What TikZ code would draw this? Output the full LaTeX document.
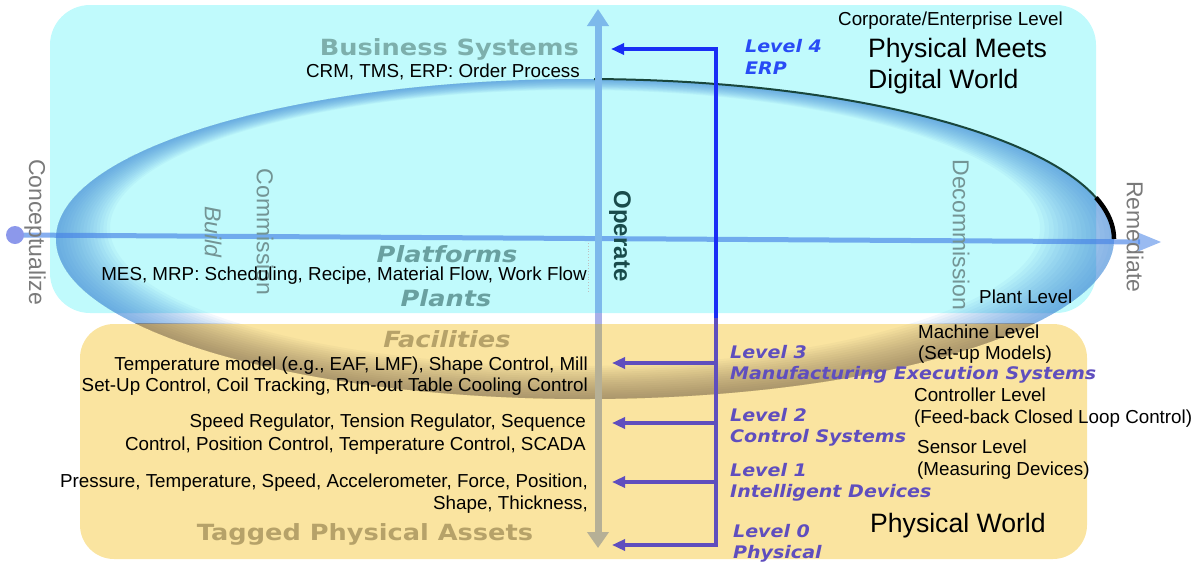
\documentclass[tikz,border=0pt]{standalone}
\usepackage{fontspec}
\setmainfont{Liberation Sans}
\newfontfamily\tierfont[FakeStretch=1.15]{DejaVu Sans}
\newfontfamily\lvlfont[FakeStretch=1.1]{DejaVu Sans}
\usetikzlibrary{arrows.meta}

\definecolor{cyanbg}{RGB}{192,250,252}
\definecolor{orangebg}{RGB}{250,228,160}
\definecolor{ringblue}{RGB}{62,135,215}
\definecolor{ringbrown}{RGB}{110,90,70}
\definecolor{rimline}{RGB}{25,70,60}
\definecolor{axisline}{RGB}{70,130,230}
\definecolor{dotblue}{RGB}{140,152,235}
\definecolor{vaxistop}{RGB}{125,185,235}
\definecolor{vaxisgap}{RGB}{170,175,232}
\definecolor{vaxisbot}{RGB}{182,176,150}
\definecolor{busblue}{RGB}{25,45,245}
\definecolor{buspurple}{RGB}{95,78,190}
\definecolor{lvlblue}{RGB}{40,75,245}
\definecolor{tealgray}{RGB}{125,175,172}
\definecolor{tierteal}{RGB}{105,160,160}
\definecolor{tiertan}{RGB}{182,162,105}
\definecolor{phasegray}{RGB}{122,122,122}
\definecolor{phaseteal}{RGB}{115,148,148}
\definecolor{operateteal}{RGB}{25,75,75}

\tikzset{
  lbl/.style={font=\fontsize{18.8}{21}\selectfont, inner sep=0pt, text=black},
  big/.style={font=\fontsize{26.6}{29}\selectfont, inner sep=0pt, text=black},
  phase/.style={font=\fontsize{23}{25}\selectfont, inner sep=0pt, rotate=-90},
  tier/.style={font=\tierfont\bfseries\fontsize{22.3}{24}\selectfont, inner sep=0pt},
  tierit/.style={font=\tierfont\bfseries\itshape\fontsize{22.3}{24}\selectfont, inner sep=0pt},
  lvl/.style={font=\lvlfont\bfseries\itshape\fontsize{17.3}{20}\selectfont, inner sep=0pt, text=buspurple},
  busline/.style={line width=3.2pt, line join=miter},
  lvlarrow/.style={busline, draw=buspurple, -{Triangle[length=13pt,width=11pt]}},
}

\begin{document}
\begin{tikzpicture}[x=1pt,y=-1pt]
\useasboundingbox (0,0) rectangle (1204,563);

% the two tiers
\fill[cyanbg, rounded corners=40pt] (50,5) rectangle (1096,313);
\fill[orangebg, rounded corners=34pt] (80,324) rectangle (1087,559);

% life-cycle ellipse: shaded rim, blue above the digital tier, brown below
\begin{scope}
  \clip (0,0) rectangle (1204,323.5);
  \foreach \i in {1,...,16}{
    \pgfmathsetmacro{\cx}{585-10*\i/16}
    \pgfmathsetmacro{\cy}{239-11*\i/16}
    \pgfmathsetmacro{\rx}{529-64*\i/16}
    \pgfmathsetmacro{\ry}{160-22*\i/16}
    \fill[ringblue, fill opacity=0.06, even odd rule]
      (585,239) ellipse [x radius=529, y radius=160]
      (\cx,\cy) ellipse [x radius=\rx, y radius=\ry];
  }
\end{scope}
\begin{scope}
  \clip (0,323.5) rectangle (1204,563);
  \foreach \i in {1,...,16}{
    \pgfmathsetmacro{\cx}{585-10*\i/16}
    \pgfmathsetmacro{\cy}{239-11*\i/16}
    \pgfmathsetmacro{\rx}{529-64*\i/16}
    \pgfmathsetmacro{\ry}{160-22*\i/16}
    \fill[ringbrown, fill opacity=0.045, even odd rule]
      (585,239) ellipse [x radius=529, y radius=160]
      (\cx,\cy) ellipse [x radius=\rx, y radius=\ry];
  }
\end{scope}
\draw[rimline, line width=2pt] plot[domain=0:89, samples=80] ({585+529*cos(\x)},{239-160*sin(\x)});
\draw[black, line width=4.5pt] plot[domain=0:15, samples=30] ({585+529*cos(\x)},{239-160*sin(\x)});

% horizontal life-cycle axis
\coordinate (cdot) at (15,235);
\coordinate (rtip) at (1161,242);
\draw[axisline, draw opacity=0.65, line width=5pt] (cdot) -- (1140,241.9);
\fill[axisline, fill opacity=0.55] (rtip) -- (1138,232.5) -- (1138,251.5) -- cycle;
\fill[dotblue] (cdot) circle [radius=9];

% vertical operate axis
\coordinate (vtop) at (598,9);
\coordinate (vcyan) at (598,313);
\coordinate (vorange) at (598,324);
\coordinate (vbot) at (598,548);
\draw[vaxistop, line width=7pt, -{Triangle[length=17pt,width=21pt]}] (vcyan) -- (vtop);
\draw[vaxisgap, line width=7pt] (vcyan) -- (vorange);
\draw[vaxisbot, line width=7pt, -{Triangle[length=16pt,width=21pt]}] (vorange) -- (vbot);

% faint guide beside the work-flow line
\draw[black!25, dotted, line width=0.8pt] (588,243) -- (588,292);

% level bus and its arrows
\coordinate (b4) at (716,49);
\coordinate (bsplit) at (716,318);
\coordinate (b3) at (716,363);
\coordinate (b2) at (716,423);
\coordinate (b1) at (716,482);
\coordinate (b0) at (716,545);
\coordinate (t4) at (611,49);
\coordinate (t3) at (612,363);
\coordinate (t2) at (612,423);
\coordinate (t1) at (612,482);
\coordinate (t0) at (612,545);
\draw[busline, draw=busblue, -{Triangle[length=13pt,width=11pt]}] (bsplit) -- (b4) -- (t4);
\draw[lvlarrow] (bsplit) -- (b0) -- (t0);
\draw[lvlarrow] (b3) -- (t3);
\draw[lvlarrow] (b2) -- (t2);
\draw[lvlarrow] (b1) -- (t1);

% tier headings
\node[tier, anchor=base east, text=tealgray] (biz) at (579,55) {Business Systems};
\node[tierit, anchor=base, text=tierteal] (plat) at (447,262.5) {Platforms};
\node[tierit, anchor=base, text=tierteal] (plants) at (446,306) {Plants};
\node[tierit, anchor=base, text=tiertan] (fac) at (447,347) {Facilities};
\node[tier, anchor=base, text=tiertan] (tagged) at (365,540) {Tagged Physical Assets};

% life-cycle phases
\node[phase, text=phasegray] (concept) at (35,232) {Conceptualize};
\node[phase, text=phaseteal, font=\fontsize{23}{25}\selectfont\itshape] (build) at (213,232) {Build};
\node[phase, text=phaseteal] (comm) at (265,232) {Commission};
\node[phase, text=operateteal, font=\fontsize{24}{26}\selectfont\bfseries] (operate) at (620,236) {Operate};
\node[phase, text=phaseteal] (decomm) at (961,235) {Decommission};
\node[phase, text=phasegray] (remed) at (1135,237) {Remediate};

% system descriptions
\node[lbl, anchor=base east] (crm) at (580,77) {CRM, TMS, ERP: Order Process};
\node[lbl, anchor=base east] (mes) at (587,280.5) {MES, MRP: Scheduling, Recipe, Material Flow, Work Flow};
\node[lbl, anchor=base east] (temp1) at (588,370) {Temperature model (e.g., EAF, LMF), Shape Control, Mill};
\node[lbl, anchor=base east] (temp2) at (588,391) {Set-Up Control, Coil Tracking, Run-out Table Cooling Control};
\node[lbl, anchor=base east] (speed1) at (586,427) {Speed Regulator, Tension Regulator, Sequence};
\node[lbl, anchor=base east] (speed2) at (586,450) {Control, Position Control, Temperature Control, SCADA};
\node[lbl, anchor=base east] (press1) at (588,487) {Pressure, Temperature, Speed, Accelerometer, Force, Position,};
\node[lbl, anchor=base east] (press2) at (588,509) {Shape, Thickness,};

% level names
\node[lvl, text=lvlblue, anchor=base west] (l4a) at (745,52) {Level 4};
\node[lvl, text=lvlblue, anchor=base west] (l4b) at (745,74) {ERP};
\node[lvl, anchor=base west] (l3a) at (730,358) {Level 3};
\node[lvl, anchor=base west] (l3b) at (730,379) {Manufacturing Execution Systems};
\node[lvl, anchor=base west] (l2a) at (730,421) {Level 2};
\node[lvl, anchor=base west] (l2b) at (730,442) {Control Systems};
\node[lvl, anchor=base west] (l1a) at (730,476) {Level 1};
\node[lvl, anchor=base west] (l1b) at (730,497) {Intelligent Devices};
\node[lvl, anchor=base west] (l0a) at (733,537) {Level 0};
\node[lvl, anchor=base west] (l0b) at (733,558) {Physical};

% hierarchy levels
\node[lbl, anchor=base west] (corp) at (838,25) {Corporate/Enterprise Level};
\node[lbl, anchor=base west] (plant) at (979,303) {Plant Level};
\node[lbl, anchor=base west] (mach1) at (918,338) {Machine Level};
\node[lbl, anchor=base west] (mach2) at (918,359) {(Set-up Models)};
\node[lbl, anchor=base west] (ctrl1) at (914,401) {Controller Level};
\node[lbl, anchor=base west] (ctrl2) at (914,423) {(Feed-back Closed Loop Control)};
\node[lbl, anchor=base west] (sens1) at (917,453) {Sensor Level};
\node[lbl, anchor=base west] (sens2) at (917,475) {(Measuring Devices)};

% world captions
\node[big, anchor=base west] (pm1) at (868,57) {Physical Meets};
\node[big, anchor=base west] (pm2) at (868,88) {Digital World};
\node[big, anchor=base west] (pw) at (870,532) {Physical World};
\end{tikzpicture}
\end{document}
